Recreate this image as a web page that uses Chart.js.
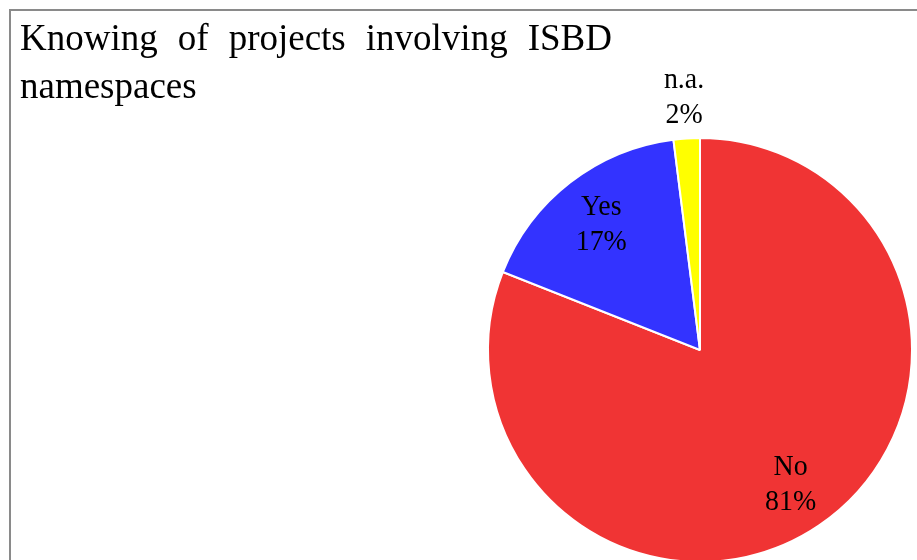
<!DOCTYPE html>
<html>
<head>
<meta charset="utf-8">
<script src="https://cdn.jsdelivr.net/npm/chart.js@4"></script>
<style>
  html, body { margin: 0; padding: 0; background: #fff; overflow: hidden; }
  #wrap { position: relative; width: 917px; height: 560px; overflow: hidden; }
  #frame {
    position: absolute; left: 9px; top: 9px; width: 1000px; height: 700px;
    border: 2px solid #8a8a8a; box-sizing: border-box;
  }
  #pie { position: absolute; left: 0; top: 0; }
</style>
</head>
<body>
<div id="wrap">
  <div id="frame"></div>
  <canvas id="pie" width="917" height="600"></canvas>
</div>
<script>
// ---------------- Data ----------------
const labels = ["No", "Yes", "n.a."];
const values = [81, 17, 2];
const colors = ["#f03434", "#3333ff", "#ffff00"];
const titleLines = ["Knowing of projects involving ISBD", "namespaces"];

const serif = '"Liberation Serif", "Times New Roman", serif';

// ---------------- Helpers ----------------
// draws text squeezed horizontally a little, like the reference's labels
function drawCondensed(ctx, text, x, y, scale, align) {
  ctx.save();
  ctx.translate(x, y);
  ctx.scale(scale, 1);
  ctx.textAlign = align;
  ctx.fillText(text, 0, 0);
  ctx.restore();
}

// ---------------- Title (justified first line) ----------------
const titlePlugin = {
  id: "titleText",
  afterDraw(chart) {
    const ctx = chart.ctx;
    ctx.save();
    ctx.fillStyle = "#000";
    ctx.font = `37px ${serif}`;
    ctx.textBaseline = "alphabetic";
    ctx.textAlign = "left";

    // line 1 spread between 20 and 612
    const words = titleLines[0].split(" ");
    const widths = words.map(w => ctx.measureText(w).width);
    const left = 20, right = 612;
    const gap = (right - left - widths.reduce((a, b) => a + b, 0)) / (words.length - 1);
    let x = left;
    words.forEach((w, i) => {
      ctx.fillText(w, x, 50);
      x += widths[i] + gap;
    });

    ctx.fillText(titleLines[1], left, 98);
    ctx.restore();
  }
};

// ---------------- Slice labels ----------------
const sliceLabelPlugin = {
  id: "sliceLabels",
  afterDatasetsDraw(chart) {
    const ctx = chart.ctx;
    const meta = chart.getDatasetMeta(0);
    const fs = 30;
    ctx.save();
    ctx.fillStyle = "#000";
    ctx.font = `${fs}px ${serif}`;
    ctx.textBaseline = "alphabetic";
    meta.data.forEach((arc, i) => {
      const p = arc.getProps(["x", "y", "startAngle", "endAngle", "outerRadius"], true);
      const mid = (p.startAngle + p.endAngle) / 2;
      // small slices get their label outside the pie
      const r = values[i] < 5 ? p.outerRadius * 1.2 : p.outerRadius * 0.76;
      const cx = p.x + Math.cos(mid) * r;
      const cy = p.y + Math.sin(mid) * r;
      const off = fs * 0.33;
      drawCondensed(ctx, labels[i], cx, cy - 18 + off, 0.93, "center");
      drawCondensed(ctx, values[i] + "%", cx, cy + 17 + off, 0.93, "center");
    });
    ctx.restore();
  }
};

// ---------------- Chart ----------------
new Chart(document.getElementById("pie"), {
  type: "pie",
  data: {
    labels: labels,
    datasets: [{
      data: values,
      backgroundColor: colors,
      borderColor: "#ffffff",
      borderWidth: 2,
      hoverOffset: 0,
    }],
  },
  options: {
    responsive: false,
    animation: false,
    layout: { padding: { left: 487, top: 137, right: 4, bottom: 37 } },
    plugins: {
      legend: { display: false },
      tooltip: { enabled: false },
      title: { display: false },
    },
  },
  plugins: [sliceLabelPlugin, titlePlugin],
});
</script>
</body>
</html>
